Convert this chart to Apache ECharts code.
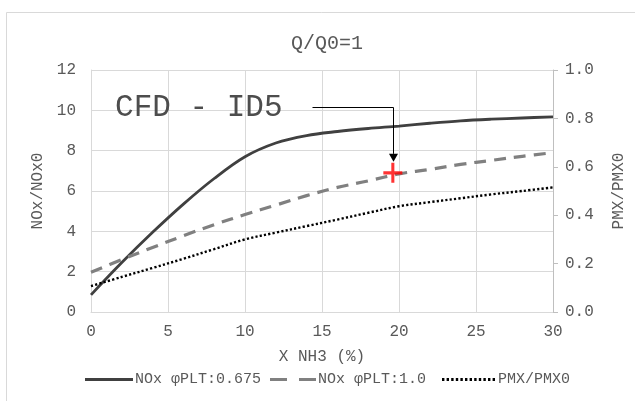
<!DOCTYPE html>
<html>
<head>
<meta charset="utf-8">
<script src="https://cdn.jsdelivr.net/npm/echarts@6/dist/echarts.min.js"></script>
<style>
  html, body { margin: 0; padding: 0; background: #fff; }
  #chart { width: 635px; height: 401px; }
</style>
</head>
<body>
<div id="chart"></div>
<script>
// NH3 fraction (%) along the x axis
const xNH3 = [0, 2, 4, 6, 8, 10, 12, 14, 16, 18, 20, 22, 24, 26, 28, 30];

// NOx/NOx0 at φPLT = 0.675
const noxPhi0675 = [0.85, 2.45, 3.95, 5.35, 6.62, 7.7, 8.38, 8.75, 8.95, 9.1, 9.22, 9.36, 9.48, 9.56, 9.62, 9.68];

// NOx/NOx0 at φPLT = 1.0
const noxPhi10 = [1.97, 2.6, 3.2, 3.78, 4.33, 4.83, 5.3, 5.77, 6.18, 6.5, 6.85, 7.07, 7.32, 7.52, 7.72, 7.9];

// PMX/PMX0 (right axis)
const pmxRatio = [0.107, 0.145, 0.182, 0.22, 0.26, 0.3, 0.328, 0.355, 0.382, 0.41, 0.437, 0.454, 0.47, 0.486, 0.5, 0.515];

// CFD reference case ID5
const cfdPoint = [19.6, 6.9];
const cfdLabel = 'CFD - ID5';

const seriesNames = ['NOx φPLT:0.675', 'NOx φPLT:1.0', 'PMX/PMX0'];
const chartTitle = 'Q/Q0=1';
const xName = 'X NH3 (%)';
const yLeftName = 'NOx/NOx0';
const yRightName = 'PMX/PMX0';

const FONT = '"Liberation Mono", "DejaVu Sans Mono", monospace';
const TXT = '#595959';
const GRID = '#d9d9d9';

const pairs = (xs, ys) => xs.map((x, i) => [x, ys[i]]);

// Legend swatches drawn as paths: solid bar, two dashes, a row of dots
const solidIcon = 'path://M0,0h48v3h-48z';
const dashIcon = 'path://M0,0h17v3h-17zM29,0h17v3h-17z';
let dotPath = '';
for (let x = 0; x + 2.4 <= 56; x += 4.6) dotPath += 'M' + x.toFixed(1) + ',0h2.4v3h-2.4z';
const dotIcon = 'path://' + dotPath;

const chart = echarts.init(document.getElementById('chart'), null, { renderer: 'canvas' });

const legendText = { fontFamily: FONT, fontSize: 15, color: TXT, padding: [0, 0, 0, -3] };

chart.setOption({
  animation: false,
  backgroundColor: '#fff',
  title: {
    text: chartTitle,
    left: 322, top: 29,
    textAlign: 'center',
    textStyle: { fontFamily: FONT, fontSize: 20, fontWeight: 'normal', color: TXT }
  },
  grid: { left: 91, right: 82, top: 70, bottom: 89 },
  legend: [
    { data: [{ name: seriesNames[0], icon: solidIcon }], left: 80, top: 367, itemWidth: 48, itemHeight: 3, textStyle: legendText },
    { data: [{ name: seriesNames[1], icon: dashIcon }], left: 265, top: 367, itemWidth: 46, itemHeight: 3, textStyle: legendText },
    { data: [{ name: seriesNames[2], icon: dotIcon }], left: 437, top: 367, itemWidth: 55, itemHeight: 3, textStyle: legendText }
  ],
  xAxis: {
    type: 'value', min: 0, max: 30, interval: 5,
    name: xName, nameLocation: 'middle', nameGap: 37,
    nameTextStyle: { fontFamily: FONT, fontSize: 16, color: TXT },
    axisLine: { show: true, lineStyle: { color: GRID } },
    axisTick: { show: false },
    axisLabel: { fontFamily: FONT, fontSize: 16, color: TXT, margin: 12 },
    splitLine: { show: true, lineStyle: { color: GRID, width: 1 } }
  },
  yAxis: [
    {
      type: 'value', min: 0, max: 12, interval: 2,
      name: yLeftName, nameLocation: 'middle', nameGap: 44, nameRotate: 90,
      nameTextStyle: { fontFamily: FONT, fontSize: 16, color: TXT },
      axisLine: { show: true, lineStyle: { color: GRID } },
      axisTick: { show: false },
      axisLabel: { fontFamily: FONT, fontSize: 16, color: TXT, margin: 15 },
      splitLine: { show: true, lineStyle: { color: GRID, width: 1 } }
    },
    {
      type: 'value', min: 0, max: 1, interval: 0.2, position: 'right',
      name: yRightName, nameLocation: 'middle', nameGap: 58, nameRotate: 90,
      nameTextStyle: { fontFamily: FONT, fontSize: 16, color: TXT },
      axisLine: { show: true, lineStyle: { color: '#bfbfbf' } },
      axisTick: { show: true, length: 5, inside: false, lineStyle: { color: '#bfbfbf' } },
      axisLabel: { fontFamily: FONT, fontSize: 16, color: TXT, margin: 12, formatter: v => v.toFixed(1) },
      splitLine: { show: false }
    }
  ],
  series: [
    {
      name: seriesNames[0], type: 'line', yAxisIndex: 0,
      data: pairs(xNH3, noxPhi0675), smooth: 0.35, showSymbol: false, symbol: 'none',
      lineStyle: { color: '#404040', width: 2.8 }, itemStyle: { color: '#404040' }, z: 3
    },
    {
      name: seriesNames[1], type: 'line', yAxisIndex: 0,
      data: pairs(xNH3, noxPhi10), smooth: 0.35, showSymbol: false, symbol: 'none',
      lineStyle: { color: '#808080', width: 3.2, type: [12, 8] }, itemStyle: { color: '#808080' }, z: 3
    },
    {
      name: seriesNames[2], type: 'line', yAxisIndex: 1,
      data: pairs(xNH3, pmxRatio), smooth: 0.35, showSymbol: false, symbol: 'none',
      lineStyle: { color: '#000', width: 2.4, type: [2.2, 2.2] }, itemStyle: { color: '#000' }, z: 3
    },
    {
      name: 'CFD', type: 'scatter', yAxisIndex: 0,
      data: [cfdPoint],
      symbol: 'path://M-1.6,-10 L1.6,-10 L1.6,-1.6 L10,-1.6 L10,1.6 L1.6,1.6 L1.6,10 L-1.6,10 L-1.6,1.6 L-10,1.6 L-10,-1.6 L-1.6,-1.6 Z',
      symbolSize: [19, 20], itemStyle: { color: '#ff0000' }, z: 5, silent: true
    }
  ]
});

// Leader line with arrow and label pointing at the CFD point
const p = chart.convertToPixel({ xAxisIndex: 0, yAxisIndex: 0 }, cfdPoint);
const px = Math.round(p[0]) + 0.5;
const tipY = p[1] - 11;
const elbowY = Math.round(p[1] - 66) + 0.5;
const startX = px - 81;

chart.setOption({
  graphic: [
    {
      type: 'rect', silent: true, z: -10,
      shape: { x: 6.5, y: 12.5, width: 700, height: 500 },
      style: { fill: null, stroke: GRID, lineWidth: 1 }
    },
    {
      type: 'polyline', silent: true, z: 10,
      shape: { points: [[startX, elbowY], [px, elbowY], [px, tipY - 8]] },
      style: { stroke: '#000', lineWidth: 1, fill: null }
    },
    {
      type: 'polygon', silent: true, z: 10,
      shape: { points: [[px - 4.5, tipY - 8], [px + 4.5, tipY - 8], [px, tipY]] },
      style: { fill: '#000' }
    },
    {
      type: 'text', silent: true, z: 10,
      x: startX - 30, y: elbowY,
      style: {
        text: cfdLabel, fontFamily: FONT, fontSize: 31, fill: '#4d4d4d',
        align: 'right', verticalAlign: 'middle'
      }
    }
  ]
});
</script>
</body>
</html>
